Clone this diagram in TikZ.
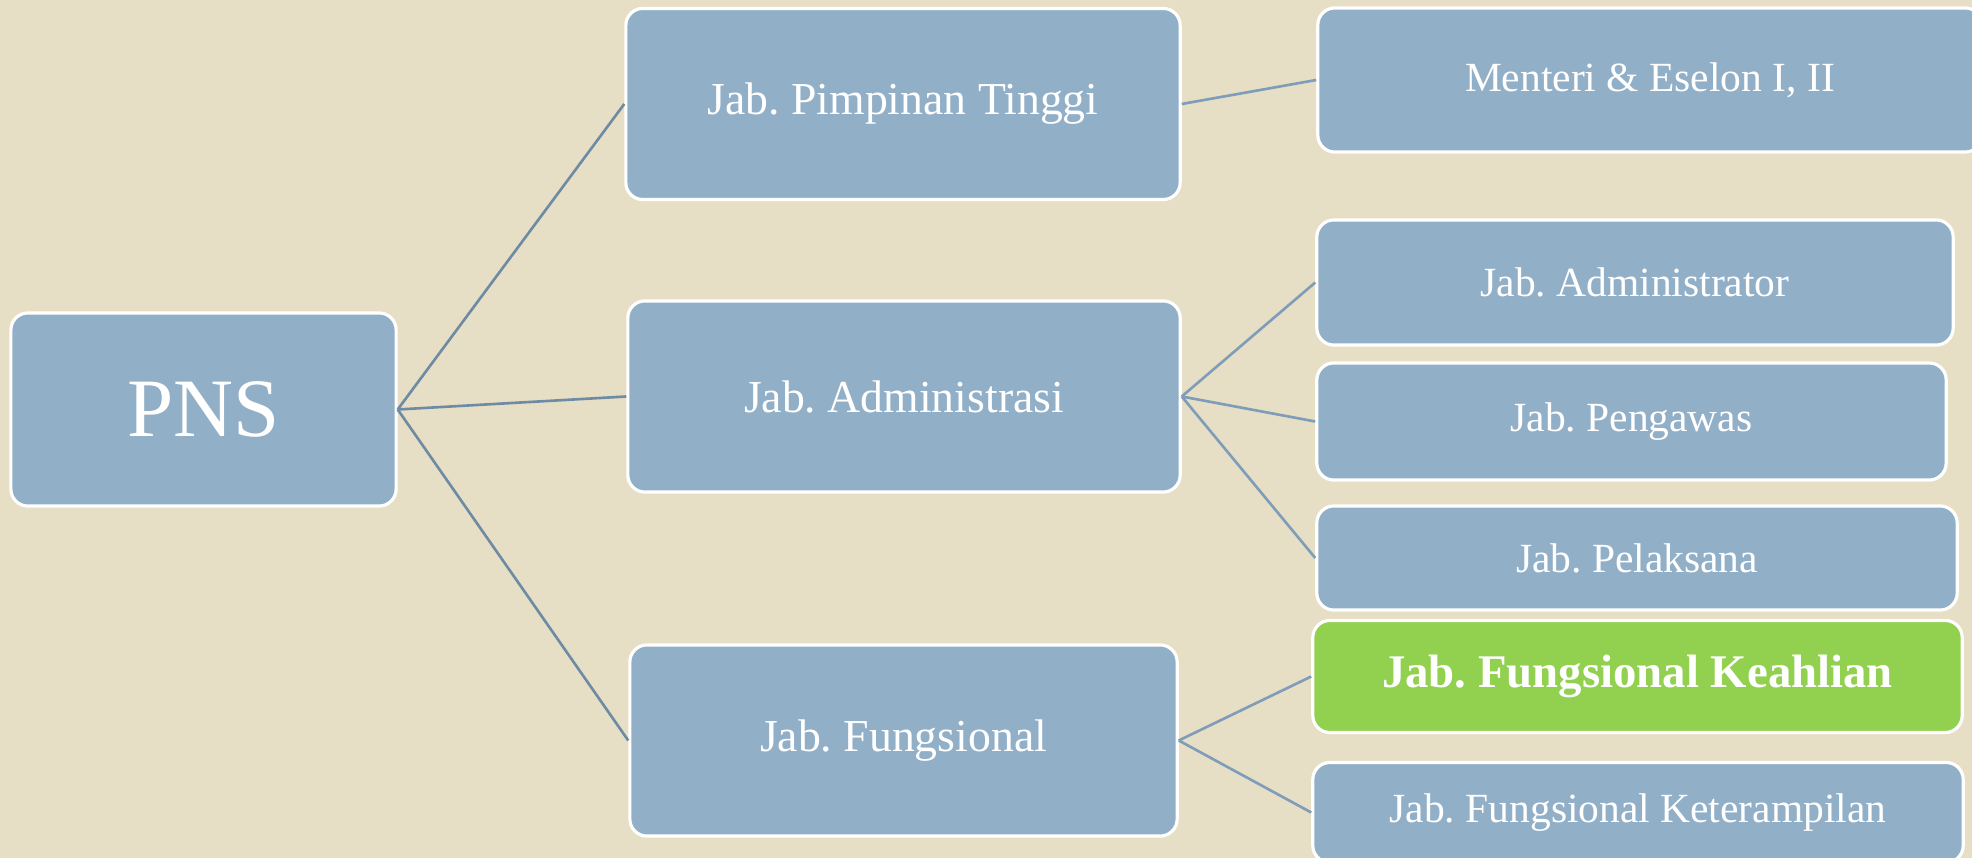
\documentclass[tikz,border=0pt]{standalone}
\usepackage{fontspec}
\setmainfont{Liberation Serif}
\frenchspacing

\definecolor{latar}{HTML}{E6DFC6}
\definecolor{kotak}{HTML}{92AFC8}
\definecolor{hijau}{HTML}{92D050}
\definecolor{garis}{HTML}{6F8BA3}
\definecolor{garismuda}{HTML}{7F9DB9}

\tikzset{
  jabatan/.style={draw=white, line width=0.9pt, fill=kotak, text=white,
                  rounded corners=0.17cm, inner sep=0pt, align=center},
  sorot/.style={jabatan, fill=hijau, font=\fontsize{13.3}{15}\selectfont\bfseries},
  link/.style={draw=garis, line width=0.75pt},
  linkmuda/.style={draw=garismuda, line width=0.75pt}
}

\begin{document}
\begin{tikzpicture}[x=0.01cm, y=-0.01cm,
                    level1/.style={jabatan, minimum height=1.91cm,
                                   font=\fontsize{13}{15}\selectfont},
                    level2/.style={jabatan, font=\fontsize{11.8}{14}\selectfont}]
  \useasboundingbox (0,0) rectangle (1972,858);
  \clip (0,0) rectangle (1972,858);
  \fill[latar] (0,0) rectangle (1972,858);

  % akar
  \node[jabatan, minimum width=3.85cm, minimum height=1.93cm,
        font=\fontsize{23.6}{26}\selectfont] (pns) at (203.5,409.5) {PNS};

  % tingkat pertama
  \node[level1, minimum width=5.54cm] (jpt) at (903,104) {Jab. Pimpinan Tinggi};
  \node[level1, minimum width=5.52cm] (jadm) at (904,396.5) {Jab. Administrasi};
  \node[level1, minimum width=5.47cm] (jfung) at (903.5,740.5) {Jab. Fungsional};

  % tingkat kedua
  \node[level2, minimum width=6.64cm, minimum height=1.44cm] (menteri) at (1650,80) {Menteri \& Eselon I, II};
  \node[level2, minimum width=6.36cm, minimum height=1.25cm] (admr) at (1635,282.5) {Jab. Administrator};
  \node[level2, minimum width=6.29cm, minimum height=1.17cm] (pengawas) at (1631.5,421.5) {Jab. Pengawas};
  \node[level2, minimum width=6.40cm, minimum height=1.04cm] (pelaksana) at (1637,558) {Jab. Pelaksana};
  \node[sorot, minimum width=6.49cm, minimum height=1.12cm] (keahlian) at (1637.5,676.5) {Jab. Fungsional Keahlian};
  \node[level2, minimum width=6.50cm, minimum height=1.00cm] (terampil) at (1638,812.5) {Jab. Fungsional Keterampilan};

  % garis penghubung
  \draw[link] (pns.east) -- (jpt.west);
  \draw[link] (pns.east) -- (jadm.west);
  \draw[link] (pns.east) -- (jfung.west);
  \draw[linkmuda] (jpt.east) -- (menteri.west);
  \foreach \anak in {admr, pengawas, pelaksana}
    \draw[linkmuda] (jadm.east) -- (\anak.west);
  \foreach \anak in {keahlian, terampil}
    \draw[linkmuda] (jfung.east) -- (\anak.west);
\end{tikzpicture}
\end{document}
